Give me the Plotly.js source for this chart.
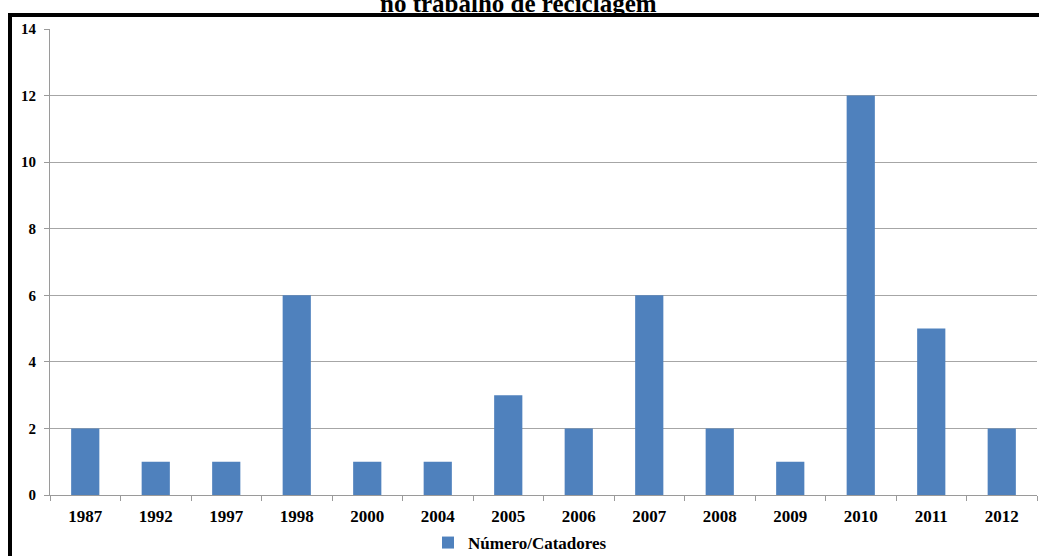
<!DOCTYPE html>
<html>
<head>
<meta charset="utf-8">
<script src="https://cdn.plot.ly/plotly-3.0.1.min.js"></script>
<style>
html,body{margin:0;padding:0;background:#fff;}
#chart{width:1039px;height:556px;}
</style>
</head>
<body>
<div id="chart"></div>
<script>
var years = ["1987","1992","1997","1998","2000","2004","2005","2006","2007","2008","2009","2010","2011","2012"];
var catadores = [2,1,1,6,1,1,3,2,6,2,1,12,5,2];
var seriesName = "Número/Catadores";
var titleText = "no trabalho de reciclagem";

var W = 1039, H = 556;
var L = 50, R = 2, T = 29, B = 61;
var pw = W - L - R, ph = H - T - B;
function px(x){ return (x - L) / pw; }
function py(y){ return (H - B - y) / ph; }

var serif = "Liberation Serif, Times New Roman, serif";

var trace = {
  type: "bar",
  x: years,
  y: catadores,
  name: seriesName,
  marker: {color: "#4F81BD"},
  showlegend: true
};

var layout = {
  width: W, height: H,
  margin: {l: L, r: R, t: T, b: B, pad: 0, autoexpand: false},
  paper_bgcolor: "#fff",
  plot_bgcolor: "#fff",
  bargap: 0.6,
  font: {family: serif, color: "#000"},
  xaxis: {
    type: "category",
    automargin: false,
    showgrid: false,
    showline: true, linecolor: "#9a9a9a", linewidth: 1,
    ticks: "outside", tickson: "boundaries", ticklen: 5, tickcolor: "#9a9a9a",
    ticklabelstandoff: 6,
    tickfont: {family: serif, size: 17, weight: "bold", color: "#000"},
    fixedrange: true
  },
  yaxis: {
    automargin: false,
    range: [0, 14],
    dtick: 2,
    showgrid: true, gridcolor: "#a6a6a6", gridwidth: 1,
    zeroline: false,
    showline: true, linecolor: "#9a9a9a", linewidth: 1,
    ticks: "outside", ticklen: 5, tickcolor: "#9a9a9a",
    ticklabelstandoff: 5,
    tickfont: {family: serif, size: 15, weight: "bold", color: "#000"},
    fixedrange: true
  },
  showlegend: true,
  legend: {
    orientation: "h",
    x: px(520), xanchor: "center",
    y: py(543), yanchor: "middle",
    font: {family: serif, size: 17, weight: "bold", color: "#000"},
    itemwidth: 30
  },
  annotations: [{
    text: titleText,
    xref: "paper", yref: "paper",
    x: px(518), xanchor: "center",
    y: py(19), yanchor: "bottom",
    showarrow: false,
    font: {family: serif, size: 25, weight: "bold", color: "#000"}
  }],
  shapes: [{
    type: "rect", xref: "paper", yref: "paper",
    x0: px(10), x1: px(1050),
    y0: py(570), y1: py(15),
    line: {color: "#000", width: 4},
    layer: "above"
  }]
};

Plotly.newPlot("chart", [trace], layout, {displayModeBar: false, staticPlot: true});
</script>
</body>
</html>
